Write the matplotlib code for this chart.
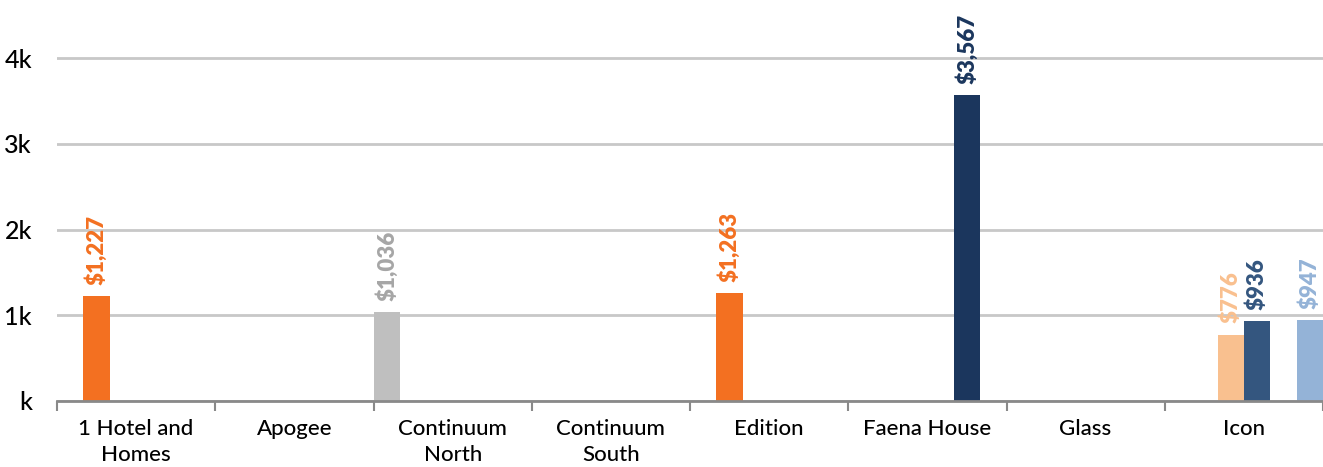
import numpy as np
import matplotlib
matplotlib.use('Agg')
import matplotlib.pyplot as plt
from matplotlib.ticker import FixedLocator, NullFormatter

plt.rcParams['font.family'] = ['Lato', 'DejaVu Sans']

# chart data
categories = ['1 Hotel and\nHomes', 'Apogee', 'Continuum\nNorth', 'Continuum\nSouth',
              'Edition', 'Faena House', 'Glass', 'Icon']
nan = np.nan
series_gray = [nan, nan, 1036, nan, nan, nan, nan, nan]
series_orange = [1227, nan, nan, nan, 1263, nan, nan, nan]
series_light_orange = [nan, nan, nan, nan, nan, nan, nan, 776]
series_steel = [nan, nan, nan, nan, nan, nan, nan, 936]
series_navy = [nan, nan, nan, nan, nan, 3567, nan, nan]
series_light_blue = [nan, nan, nan, nan, nan, nan, nan, 947]

series = [series_gray, series_orange, series_light_orange,
          series_steel, series_navy, series_light_blue]
colors = ['#BFBFBF', '#F37021', '#F9C08F', '#34567F', '#1B365D', '#94B3D7']
label_colors = ['#A6A6A6', '#F37021', '#F9C08F', '#34567F', '#1B365D', '#94B3D7']

fig = plt.figure(figsize=(13.23, 4.67), dpi=100)
ax = fig.add_axes([57 / 1323, 66 / 467, 1 - 57 / 1323, 1 - 66 / 467])

n = len(series)
width = 1.0 / n
x = np.arange(len(categories))

for i, vals in enumerate(series):
    pos = x - 0.5 + width * (i + 0.5)
    vals = np.array(vals, dtype=float)
    ax.bar(pos, vals, width=width, color=colors[i], zorder=3)
    for p, v in zip(pos, vals):
        if np.isnan(v):
            continue
        ax.annotate('${:,.0f}'.format(v), (p, v), xytext=(0, 8),
                    textcoords='offset points', rotation=90,
                    ha='center', va='bottom', fontsize=16,
                    fontweight='heavy', color=label_colors[i], zorder=4)

ax.set_xlim(-0.5, len(categories) - 0.5)
ax.set_ylim(0, 4680)

yticks = [0, 1000, 2000, 3000, 4000]
ax.set_yticks(yticks)
ax.set_yticklabels(['{}k'.format(t // 1000) if t else 'k' for t in yticks],
                   fontsize=18, fontweight='medium')
ax.tick_params(axis='y', length=0, pad=18)
ax.yaxis.grid(True, color='#C8C8C8', linewidth=2, zorder=0)

# category boundaries as major ticks, names on minor ticks
ax.xaxis.set_major_locator(FixedLocator(np.arange(len(categories) + 1) - 0.5))
ax.xaxis.set_major_formatter(NullFormatter())
ax.xaxis.set_minor_locator(FixedLocator(x))
ax.set_xticklabels(categories, minor=True, fontsize=16, fontweight='medium',
                   linespacing=1.4)
ax.tick_params(axis='x', which='major', length=7, width=1.5, color='#898989')
ax.tick_params(axis='x', which='minor', length=0, pad=13)

for side in ['top', 'right', 'left']:
    ax.spines[side].set_visible(False)
ax.spines['bottom'].set_color('#898989')
ax.spines['bottom'].set_linewidth(2)
ax.spines['bottom'].set_zorder(5)

fig.savefig('out.png', dpi=100)
